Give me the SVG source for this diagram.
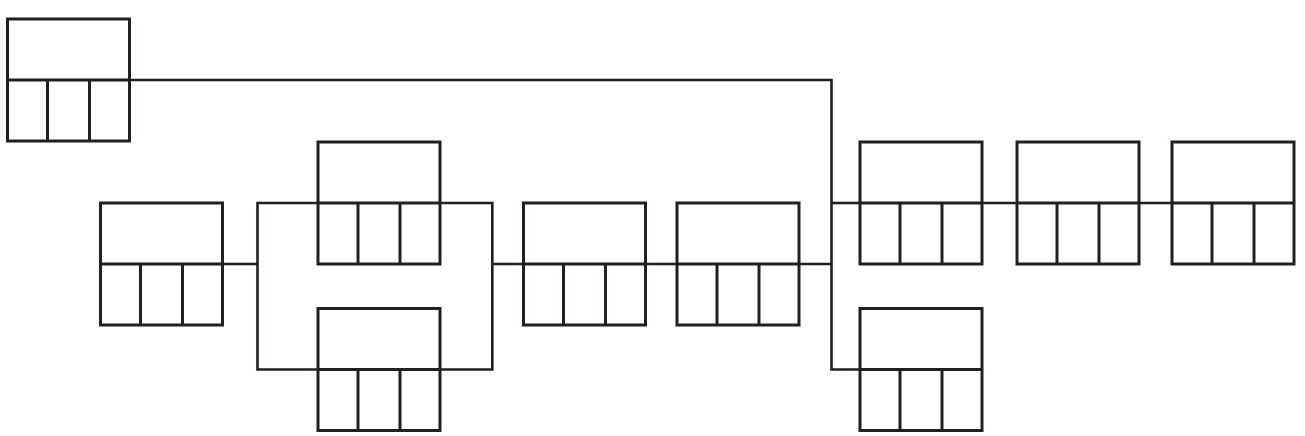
<svg xmlns="http://www.w3.org/2000/svg" width="1305" height="436" viewBox="0 0 1305 436">
<defs>
<style>
.s{fill:none;stroke:#231f20;stroke-width:3}
.c path{fill:none;stroke:#231f20;stroke-width:2.6}
</style>
<g id="box">
<rect class="s" x="0" y="0" width="122" height="122"/>
<line class="s" x1="0" y1="61" x2="122" y2="61"/>
<line class="s" x1="40" y1="61" x2="40" y2="122"/>
<line class="s" x1="82" y1="61" x2="82" y2="122"/>
</g>
</defs>
<rect width="1305" height="436" fill="#fff"/>
<g id="connectors" class="c">
<path d="M129.5 80 H831.5 V369.5 H860"/>
<path d="M831.5 203 H860"/>
<path d="M799 264 H831.5"/>
<path d="M222.5 264 H257.5"/>
<path d="M318 203 H257.5 V369.5 H318"/>
<path d="M440 203 H492.3 V369.5 H440"/>
<path d="M492.3 264 H523.5"/>
<path d="M645.5 264 H677"/>
<path d="M982 203 H1017"/>
<path d="M1139 203 H1172"/>
</g>
<g id="n1"><use href="#box" x="7.5" y="19"/></g>
<g id="n2"><use href="#box" x="100.5" y="203"/></g>
<g id="n3"><use href="#box" x="318" y="142"/></g>
<g id="n4"><use href="#box" x="318" y="308.5"/></g>
<g id="n5"><use href="#box" x="523.5" y="203"/></g>
<g id="n6"><use href="#box" x="677" y="203"/></g>
<g id="n7"><use href="#box" x="860" y="142"/></g>
<g id="n8"><use href="#box" x="860" y="308.5"/></g>
<g id="n9"><use href="#box" x="1017" y="142"/></g>
<g id="n10"><use href="#box" x="1172" y="142"/></g>
</svg>
